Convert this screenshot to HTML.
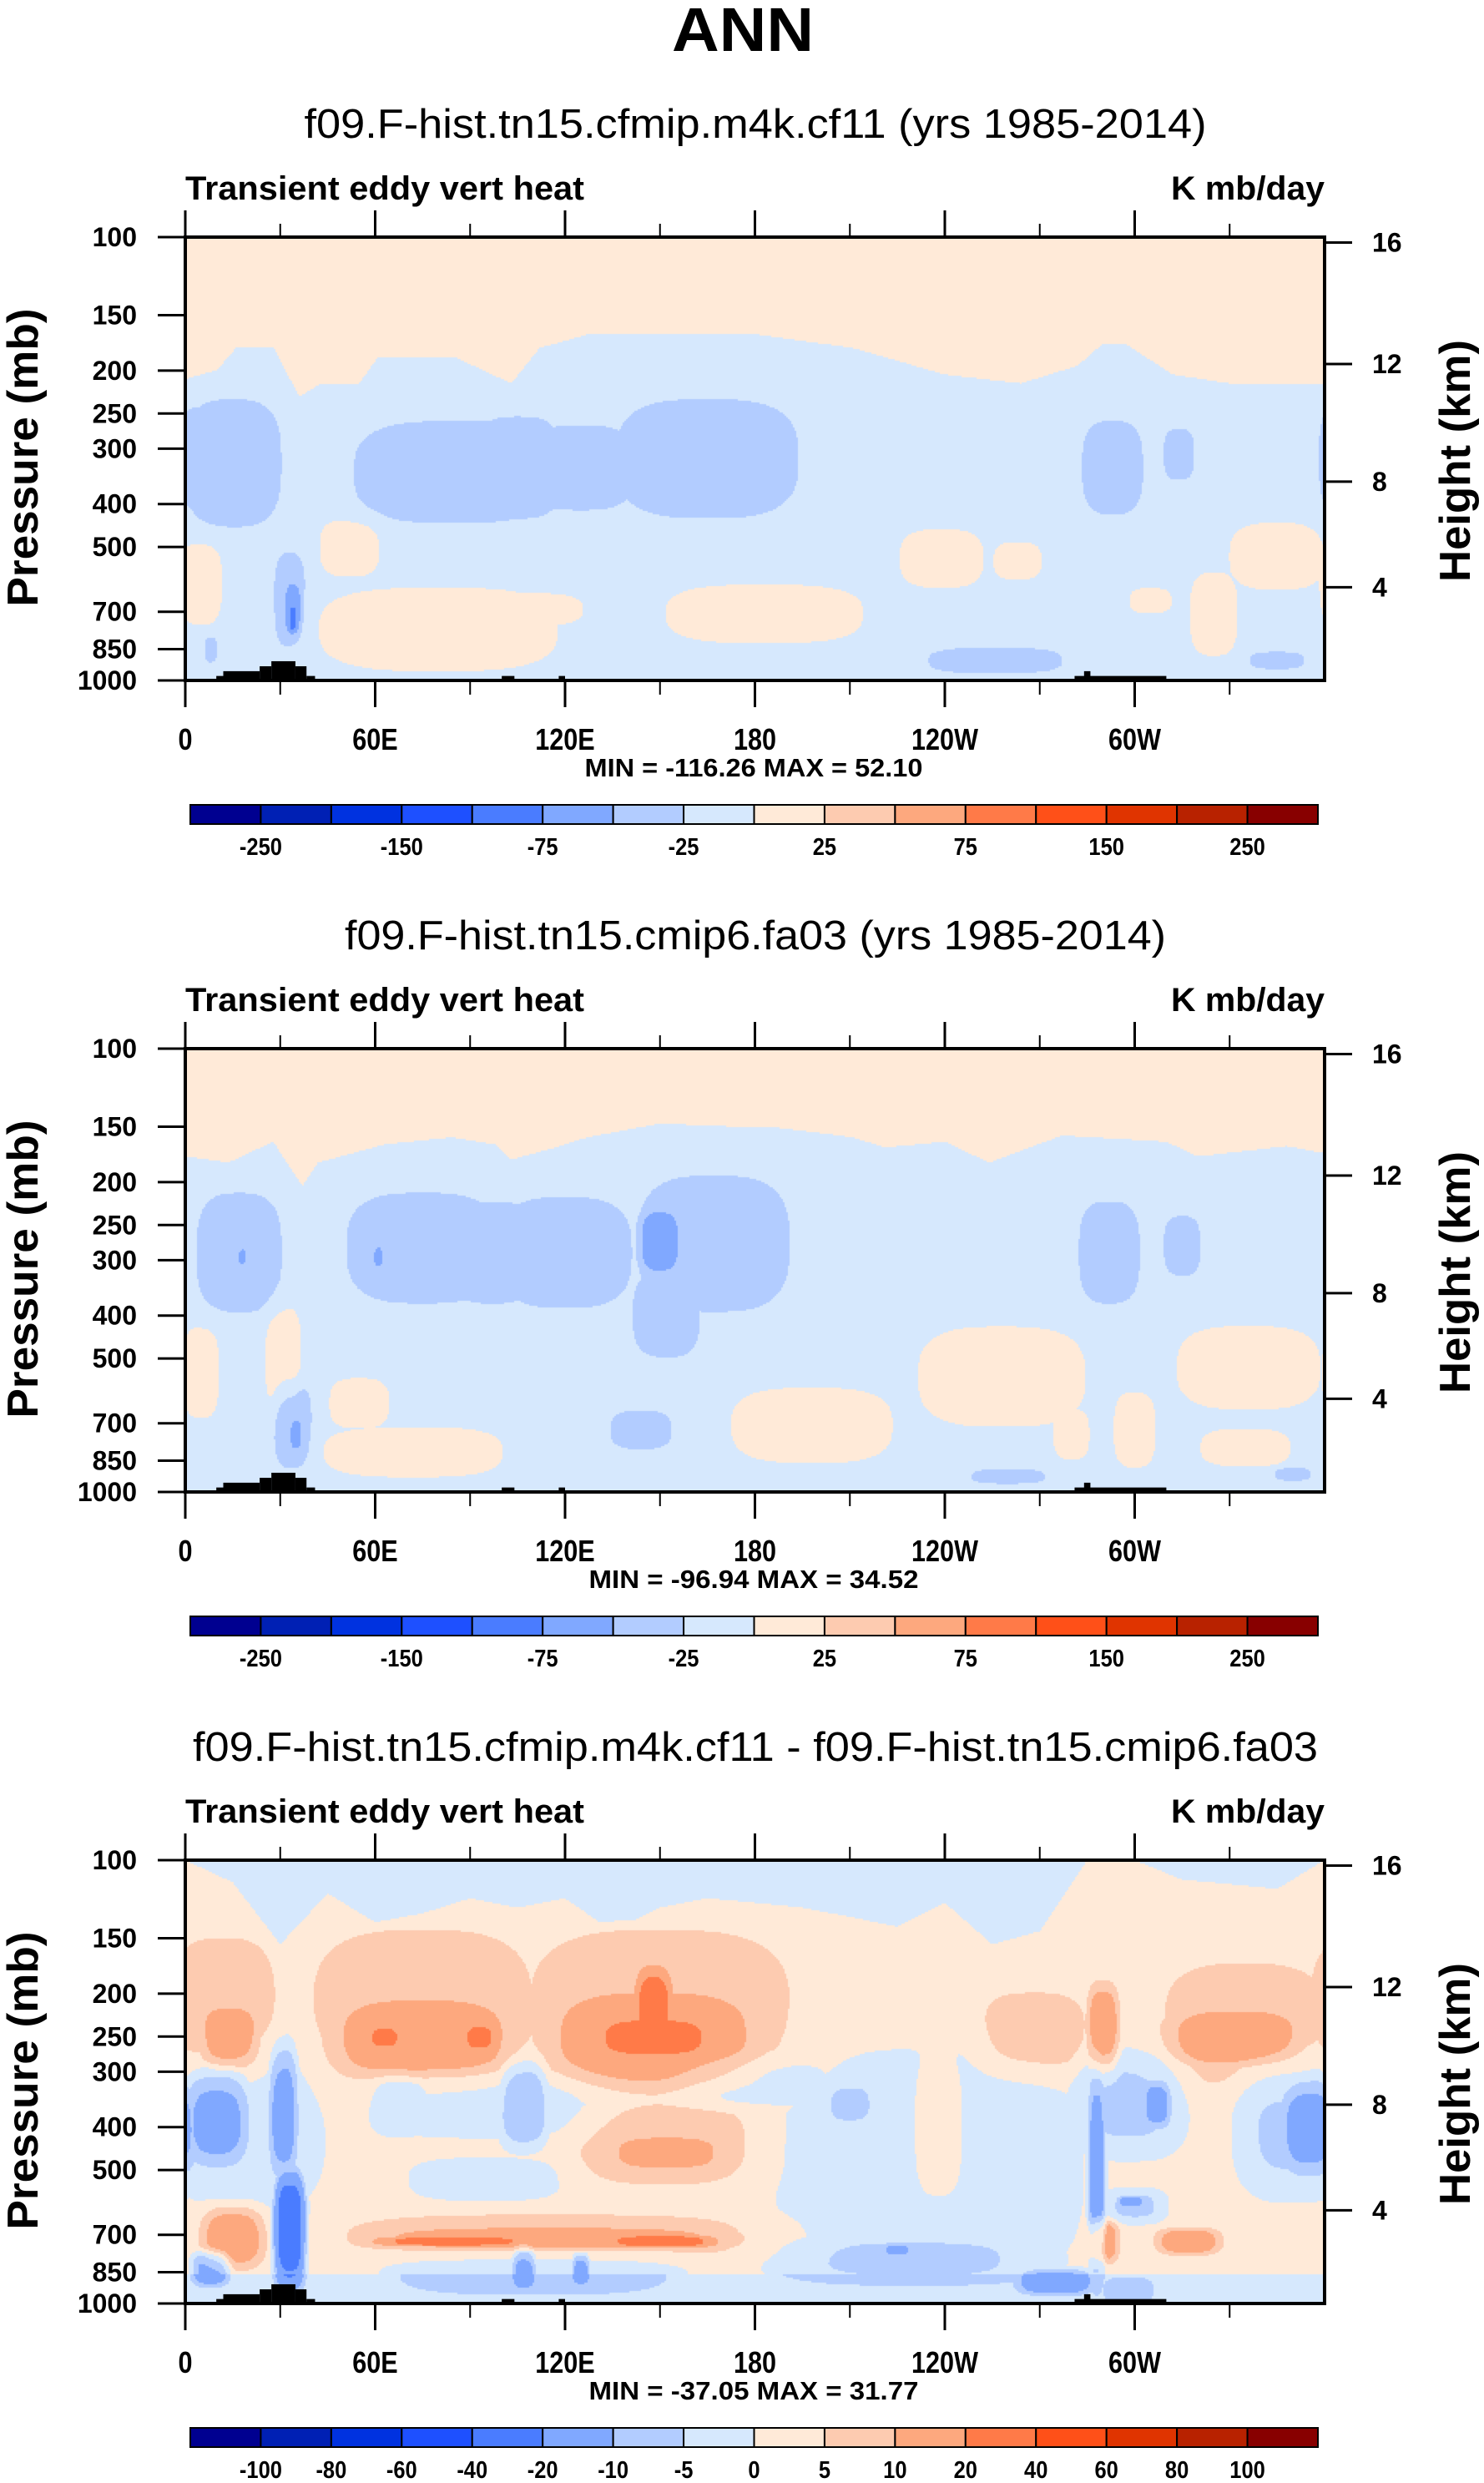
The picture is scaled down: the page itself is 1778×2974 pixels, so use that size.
<!DOCTYPE html>
<html><head><meta charset="utf-8"><title>ANN Transient eddy vert heat</title>
<style>
html,body{margin:0;padding:0;background:#fff;}
#wrap{position:relative;width:1778px;height:2974px;overflow:hidden;background:#fff;}
canvas{position:absolute;}
svg{position:absolute;left:0;top:0;}
text{font-family:"Liberation Sans",Arial,sans-serif;fill:#000;}
</style></head>
<body>
<div id="wrap">
<canvas id="c1"></canvas>
<canvas id="c2"></canvas>
<canvas id="c3"></canvas>
<svg id="svg" width="1778" height="2974" viewBox="0 0 1778 2974">
<text x="890" y="61" font-size="74" font-weight="bold" text-anchor="middle" textLength="170" lengthAdjust="spacingAndGlyphs">ANN</text>
</svg>
</div>
<script>
// ---------- data ----------
const pressureTicks = [100,150,200,250,300,400,500,700,850,1000];
const heightTicks = [4,8,12,16];
const lonTicks = [0,60,120,180,240,300];
const lonTickLabels = ["0","60E","120E","180","120W","60W"];
const minorLonTicks = [30,90,150,210,270,330];
const levelsAbs = [-250,-200,-150,-100,-75,-50,-25,0,25,50,75,100,150,200,250];
const labelsAbs = ["-250","","-150","","-75","","-25","","25","","75","","150","","250"];
const levelsDiff = [-100,-80,-60,-40,-20,-10,-5,0,5,10,20,40,60,80,100];
const labelsDiff = ["-100","-80","-60","-40","-20","-10","-5","0","5","10","20","40","60","80","100"];
const colors = ["#000090","#0020b4","#0032e0","#1e50ff","#4a7cff","#80a8ff","#b2ccff","#d6e8fd","#ffead8","#fdcbb0","#fda87e","#ff7a48","#ff5018","#e03400","#b82200","#880000"];
const titles = ["f09.F-hist.tn15.cfmip.m4k.cf11 (yrs 1985-2014)","f09.F-hist.tn15.cmip6.fa03 (yrs 1985-2014)","f09.F-hist.tn15.cfmip.m4k.cf11 - f09.F-hist.tn15.cmip6.fa03"];
const titleWidths = [1081,984,1348];
const minmax = ["MIN = -116.26  MAX =  52.10","MIN = -96.94  MAX =  34.52","MIN = -37.05  MAX =  31.77"];

const p1BoundLon = [0,10,16,28,36,43,55,61,85,103,112,127,145,181,211,240,264,282,290,297,312,330,360];
const p1BoundF   = [.32,.3,.25,.25,.36,.33,.33,.27,.27,.33,.25,.22,.22,.22,.25,.31,.33,.29,.24,.24,.31,.33,.33];
const p2BoundLon = [0,13.6,27.8,37,42,63,84,98,103,117,127,150,174,188,211,221,240,254,277,310,320,348,360];
const p2BoundF   = [.243,.257,.21,.31,.257,.216,.2,.216,.25,.223,.2,.169,.176,.179,.2,.223,.21,.257,.196,.21,.243,.22,.236];
const p3TopLon = [0,15,30,45,60,75,90,105,120,135,150,165,180,195,210,225,240,255,270,285,300,315,330,345,360];
const p3TopF   = [0,.05,.19,.075,.14,.12,.086,.107,.086,.16,.107,.086,.096,.107,.128,.15,.096,.19,.16,0,0,.044,.054,.065,0];
const baseAbove = [10,10,-2];
const baseBelow = [-10,-10,2];

const p1Blobs = [
 [15,.51,16,.15,-35],[4,.5,6,.12,-35],[85,.53,33,.12,-35],[165,.5,30,.14,-35],[125,.52,18,.1,-35],[105,.52,15,.12,-35],
 [293,.52,10,.11,-35],[314,.49,5,.06,-35],[33,.82,5,.11,-38],[34,.84,3,.07,-62],[34,.86,1.5,.04,-80],
 [256,.955,22,.03,-35],[345,.955,9,.02,-35],[8,.93,2,.03,-35],
 [5,.78,7,.1,22],[52,.7,10,.07,22],[80,.885,40,.1,22],[105,.84,22,.04,22],[183,.85,33,.07,22],
 [239,.725,14,.07,22],[263,.73,8,.045,22],[305,.82,7,.03,22],[345,.72,16,.08,22],[325,.85,8,.1,22]
];
const p2Blobs = [
 [17,.46,14,.14,-35],[75,.45,25,.13,-35],[120,.46,22,.13,-35],[97,.46,15,.12,-35],[167,.44,25,.16,-35],[152,.6,11,.1,-35],
 [150,.435,7,.08,-62],[292,.46,10,.12,-35],[315,.445,6,.07,-35],[144,.86,10,.045,-35],
 [260,.965,12,.017,-35],[350,.96,6,.015,-35],[34,.85,6,.1,-38],[35,.87,2,.04,-62],
 [18,.47,1.2,.02,-62],[61,.47,1.5,.025,-62],
 [5,.73,6,.11,22],[31,.7,6,.13,22],[55,.8,10,.06,22],[72,.91,30,.06,22],[198,.85,27,.09,22],
 [258,.74,28,.12,22],[280,.87,6,.06,22],[300,.86,7,.09,22],[336,.72,24,.1,22],[335,.9,15,.045,22]
];
const p3Blobs = [
 [10,.58,11,.12,-15],[20,.6,25,.2,-5],[31,.57,5,.16,-15],[33,.83,5,.13,-30],[8,.92,6,.04,-15],
 [68,.55,10,.07,-8],[107,.55,8,.1,-12],[95,.55,40,.08,-5],[180,.5,25,.06,-5],[210,.55,10,.06,-8],[235,.7,50,.28,-5],
 [298,.55,18,.12,-8],[288,.7,3,.25,-15],[307,.55,5,.06,-15],[300,.78,10,.04,-8],[299,.77,5,.015,-15],
 [355,.6,10,.12,-15],[350,.6,18,.16,-8],[95,.72,25,.05,-5],[110,.93,50,.06,-5],[107,.92,4,.05,-15],
 [125,.92,3,.04,-15],[230,.9,45,.06,-8],[225,.88,5,.015,-15],[275,.95,12,.03,-15],[298,.97,8,.03,-8],
 [12,.34,18,.18,6],[14,.4,10,.08,13],[75,.34,38,.2,6],[75,.4,30,.1,13],[63,.4,5,.025,25],[93,.4,5,.03,25],
 [150,.34,45,.2,6],[148,.4,35,.12,13],[148,.4,20,.05,25],[148,.34,6,.1,25],
 [268,.39,18,.1,6],[290,.38,5,.1,13],[335,.37,28,.15,6],[332,.4,22,.07,13],
 [152,.64,30,.1,6],[152,.66,18,.04,13],[238,.62,8,.15,6],
 [115,.85,70,.055,6],[115,.855,58,.03,13],[85,.86,25,.012,25],[150,.86,18,.015,25],
 [15,.85,10,.07,13],[290,.86,5,.05,13],[317,.86,10,.03,13]
];
const topoLon0 = [9.8,12,23.5,27.2,34.8,38.3,100,118,281,284];
const topoLon1 = [12,23.5,27.2,34.8,38.3,41,104,120,310,286];
const topoP    = [977,953,929,905,929,977,977,977,977,953];

// ---------- geometry ----------
const L=222, W=1365, H=531;
const tops=[284,1256,2228];
const NS="http://www.w3.org/2000/svg";
const svg=document.getElementById('svg');
function xOf(lon){return L+lon/360*W;}
function fOfP(p){return Math.log10(p/100);}
function yOfP(top,p){return top+fOfP(p)*H;}
function pOfH(km){const h=km*1000; if(h<=11000) return 1013.25*Math.pow(1-2.25577e-5*h,5.25588); return 226.32*Math.exp(-(h-11000)/6341.6);}
function interp(xs,ys,x){for(let i=0;i<xs.length-1;i++){if(x>=xs[i]&&x<=xs[i+1]){const t=(x-xs[i])/(xs[i+1]-xs[i]);return ys[i]+t*(ys[i+1]-ys[i]);}}return ys[ys.length-1];}
function el(tag,attrs,parent){const e=document.createElementNS(NS,tag);for(const k in attrs)e.setAttribute(k,attrs[k]);(parent||svg).appendChild(e);return e;}
function txt(x,y,s,size,opts){const t=el('text',Object.assign({x:x,y:y,'font-size':size},opts||{}));t.textContent=s;return t;}

function field(k,lon,f){
  let base;
  if(k===0) base = f<interp(p1BoundLon,p1BoundF,lon)?baseAbove[0]:baseBelow[0];
  else if(k===1) base = f<interp(p2BoundLon,p2BoundF,lon)?baseAbove[1]:baseBelow[1];
  else base = (f<interp(p3TopLon,p3TopF,lon)||f>0.935)?baseAbove[2]:baseBelow[2];
  const blobs=[p1Blobs,p2Blobs,p3Blobs][k];
  let pos=0,neg=0;
  for(const b of blobs){
    let dx=Math.abs(lon-b[0]); if(dx>180) dx=360-dx;
    const ax=dx/b[2], ay=Math.abs(f-b[1])/b[3];
    const r=Math.pow(ax,3)+Math.pow(ay,3);
    if(r>6) continue;
    const v=b[4]*Math.exp(-r*Math.cbrt(r));
    if(v>pos) pos=v; if(v<neg) neg=v;
  }
  return base+pos+neg;
}
function colorIdx(levels,v){let i=0;while(i<levels.length&&v>=levels[i])i++;return i;}

for(let k=0;k<3;k++){
  const top=tops[k];
  const cv=document.getElementById('c'+(k+1));
  cv.width=W; cv.height=H; cv.style.left=L+'px'; cv.style.top=top+'px';
  const ctx=cv.getContext('2d');
  const levels=k<2?levelsAbs:levelsDiff;
  const step=2;
  for(let j=0;j<H;j+=step){
    const f=(j+step/2)/H;
    for(let i=0;i<W;i+=step){
      const lon=(i+step/2)/W*360;
      ctx.fillStyle=colors[colorIdx(levels,field(k,lon,f))];
      ctx.fillRect(i,j,step,step);
    }
  }
  const g=el('g',{});
  
  
  for(let i=0;i<topoP.length;i++){
    const x0=xOf(topoLon0[i]),x1=xOf(topoLon1[i]),y0=yOfP(top,topoP[i]);
    const r=el('rect',{x:x0,y:y0,width:x1-x0,height:top+H-y0,fill:'#000'},g);
    
    
  }
  const fr=el('rect',{x:L,y:top,width:W,height:H,fill:'none',stroke:'#000','stroke-width':4},g);
  
  
  lonTicks.forEach((lon,i)=>{
    const x=xOf(lon);
    el('line',{x1:x,y1:top,x2:x,y2:top-32,stroke:'#000','stroke-width':3},g);
    el('line',{x1:x,y1:top+H,x2:x,y2:top+H+32,stroke:'#000','stroke-width':3},g);
    const t=txt(x,top+614,lonTickLabels[i],36,{'text-anchor':'middle','font-weight':'bold',transform:`translate(${x},0) scale(0.85,1) translate(${-x},0)`});
    
    
    g.appendChild(t);
  });
  minorLonTicks.forEach(lon=>{
    const x=xOf(lon);
    el('line',{x1:x,y1:top,x2:x,y2:top-16,stroke:'#000','stroke-width':2},g);
    el('line',{x1:x,y1:top+H,x2:x,y2:top+H+17,stroke:'#000','stroke-width':2},g);
  });
  pressureTicks.forEach(p=>{
    const y=yOfP(top,p);
    el('line',{x1:L,y1:y,x2:L-33,y2:y,stroke:'#000','stroke-width':3},g);
    const t=txt(164,y+11,String(p),32,{'text-anchor':'end','font-weight':'bold'});
    
    
    g.appendChild(t);
  });
  heightTicks.forEach(h=>{
    const y=yOfP(top,pOfH(h));
    el('line',{x1:L+W,y1:y,x2:L+W+33,y2:y,stroke:'#000','stroke-width':3},g);
    const t=txt(1644,y+11,String(h),32,{'font-weight':'bold'});
    
    
    g.appendChild(t);
  });
  const st=txt(905,top-119,titles[k],49,{'text-anchor':'middle',textLength:titleWidths[k],lengthAdjust:'spacingAndGlyphs'});
  
  
  g.appendChild(st);
  const lt=txt(L,top-45,'Transient eddy vert heat',40,{'font-weight':'bold',textLength:478,lengthAdjust:'spacingAndGlyphs'});
  
  
  g.appendChild(lt);
  const ut=txt(L+W,top-45,'K mb/day',40,{'font-weight':'bold','text-anchor':'end',textLength:184,lengthAdjust:'spacingAndGlyphs'});
  
  
  g.appendChild(ut);
  const yt=txt(0,0,'Pressure (mb)',52,{'font-weight':'bold','text-anchor':'middle',textLength:357,lengthAdjust:'spacingAndGlyphs',transform:`translate(45,${top+264}) rotate(-90)`});
  
  
  g.appendChild(yt);
  const ht=txt(0,0,'Height (km)',52,{'font-weight':'bold','text-anchor':'middle',textLength:290,lengthAdjust:'spacingAndGlyphs',transform:`translate(1761,${top+268}) rotate(-90)`});
  
  
  g.appendChild(ht);
  const mm=txt(903,top+646,minmax[k],31,{'font-weight':'bold','text-anchor':'middle',textLength:k===0?405:395,lengthAdjust:'spacingAndGlyphs'});
  
  
  g.appendChild(mm);
  const cb=el('g',{},g);
  
  
  const cbx=228,cbw=1351,cby=top+680,cbh=23,bw=cbw/colors.length;
  colors.forEach((c,i)=>{
    const r=el('rect',{x:cbx+i*bw,y:cby,width:bw,height:cbh,fill:c,stroke:'#000','stroke-width':2},cb);
    
    
  });
  const labs=k<2?labelsAbs:labelsDiff;
  labs.forEach((s,i)=>{
    if(!s) return;
    const x=cbx+(i+1)*bw;
    const t=txt(x,top+740,s,29,{'text-anchor':'middle','font-weight':'bold',transform:`translate(${x},0) scale(0.88,1) translate(${-x},0)`});
    
    
    cb.appendChild(t);
  });
}
</script>
</body></html>
